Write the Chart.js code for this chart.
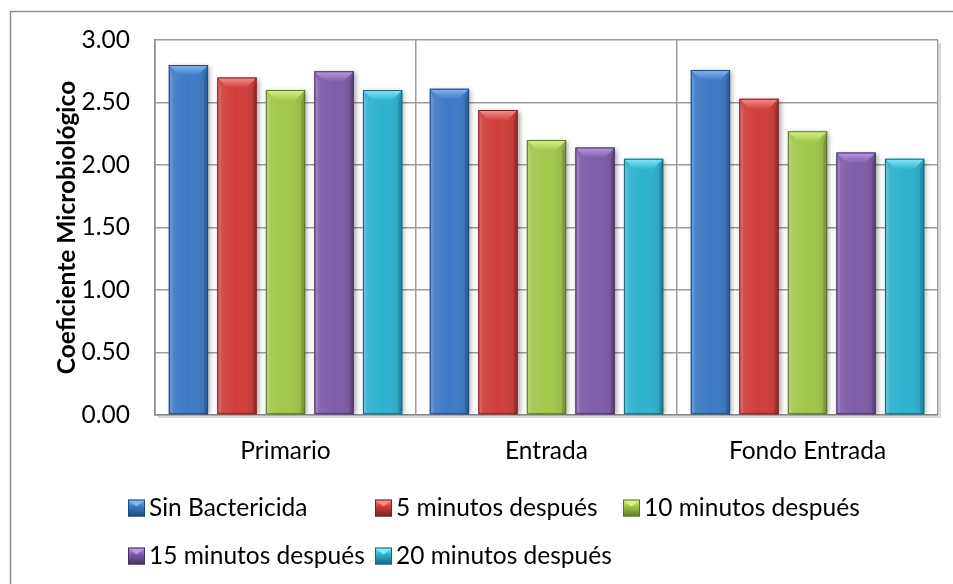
<!DOCTYPE html>
<html>
<head>
<meta charset="utf-8">
<script src="https://cdn.jsdelivr.net/npm/chart.js@4.4.1/dist/chart.umd.min.js"></script>
<style>
  html,body{margin:0;padding:0;background:#fff;}
  #wrap{width:953px;height:584px;position:relative;}
</style>
</head>
<body>
<div id="wrap"><canvas id="c" width="953" height="584"></canvas></div>
<script>
const categories = ['Primario', 'Entrada', 'Fondo Entrada'];
const seriesNames = ['Sin Bactericida', '5 minutos después', '10 minutos después', '15 minutos después', '20 minutos después'];
const sinBactericida = [2.80, 2.61, 2.76];
const min5 = [2.70, 2.44, 2.53];
const min10 = [2.60, 2.20, 2.27];
const min15 = [2.75, 2.14, 2.10];
const min20 = [2.60, 2.05, 2.05];
const yTickValues = [0, 0.5, 1, 1.5, 2, 2.5, 3];
const yTitle = 'Coeficiente Microbiológico';

const baseColors = ['#3C7AC6', '#CF3D3A', '#A2C64C', '#7E5CA8', '#2DB2D0'];
const lightColors = ['#85B6F0', '#F4918D', '#DAF48A', '#BA9BE4', '#86E8F8'];
const darkColors = ['#1F4A7E', '#7A2221', '#5B7624', '#45305F', '#1A6678'];

const seriesValues = [sinBactericida, min5, min10, min15, min20];
const FONT = 'Lato';
const FS = 24.5;

function bevelBar(ctx, x0, x1, yTop, yBot, i) {
  const b = Math.min(11, (x1 - x0) / 3);
  const g = ctx.createLinearGradient(x0, 0, x1, 0);
  g.addColorStop(0, 'rgba(255,255,255,0.10)');
  g.addColorStop(0.5, 'rgba(255,255,255,0.0)');
  g.addColorStop(1, 'rgba(0,0,0,0.12)');
  ctx.fillStyle = g;
  ctx.fillRect(x0, yTop, x1 - x0, yBot - yTop);
  const gt = ctx.createLinearGradient(0, yTop, 0, yTop + b);
  gt.addColorStop(0, lightColors[i]);
  gt.addColorStop(1, baseColors[i]);
  ctx.fillStyle = gt;
  ctx.beginPath();
  ctx.moveTo(x0, yTop); ctx.lineTo(x1, yTop); ctx.lineTo(x1 - b, yTop + b); ctx.lineTo(x0 + b, yTop + b); ctx.closePath();
  ctx.fill();
  ctx.fillStyle = 'rgba(255,255,255,0.12)';
  ctx.beginPath();
  ctx.moveTo(x0, yTop); ctx.lineTo(x0 + b * 0.35, yTop + b); ctx.lineTo(x0 + b * 0.35, yBot); ctx.lineTo(x0, yBot); ctx.closePath();
  ctx.fill();
  ctx.fillStyle = 'rgba(0,0,0,0.15)';
  ctx.beginPath();
  ctx.moveTo(x1, yTop); ctx.lineTo(x1 - b * 0.35, yTop + b); ctx.lineTo(x1 - b * 0.35, yBot); ctx.lineTo(x1, yBot); ctx.closePath();
  ctx.fill();
  ctx.strokeStyle = darkColors[i];
  ctx.lineWidth = 1;
  ctx.strokeRect(x0 + 0.5, yTop + 0.5, x1 - x0 - 1, yBot - yTop - 1);
}

const decoPlugin = {
  id: 'deco',
  beforeDraw(chart) {
    const ctx = chart.ctx;
    ctx.save();
    ctx.fillStyle = '#fff';
    ctx.fillRect(0, 0, chart.width, chart.height);
    ctx.strokeStyle = '#8e8e8e';
    ctx.lineWidth = 1.5;
    ctx.strokeRect(10.5, 11.5, 1200, 1200);
    const a = chart.chartArea;
    ctx.strokeStyle = 'rgba(0,0,0,0.15)';
    ctx.lineWidth = 2;
    ctx.beginPath();
    ctx.moveTo(a.right + 2, a.top + 3); ctx.lineTo(a.right + 2, a.bottom + 2); ctx.lineTo(a.left + 3, a.bottom + 2);
    ctx.stroke();
    ctx.restore();
  },
  beforeDatasetsDraw(chart) {
    const ctx = chart.ctx;
    ctx.save();
    ctx.shadowColor = 'rgba(0,0,0,0.35)';
    ctx.shadowBlur = 5;
    ctx.shadowOffsetX = 2;
    ctx.shadowOffsetY = 1;
  },
  afterDatasetsDraw(chart) {
    const ctx = chart.ctx;
    ctx.restore();
    ctx.save();
    chart.data.datasets.forEach((ds, i) => {
      const meta = chart.getDatasetMeta(i);
      meta.data.forEach(el => {
        const p = el.getProps(['x', 'y', 'width', 'base'], true);
        const x0 = p.x - p.width / 2, x1 = p.x + p.width / 2;
        bevelBar(ctx, x0, x1, Math.min(p.y, p.base), Math.max(p.y, p.base), i);
      });
    });
    ctx.restore();
  },
  afterDraw(chart) {
    const ctx = chart.ctx;
    ctx.save();
    ctx.font = FS + 'px ' + FONT;
    ctx.textBaseline = 'middle';
    ctx.textAlign = 'left';
    const pos = [[128, 507], [375, 507], [623, 507], [128, 555], [375, 555]];
    chart.data.datasets.forEach((ds, i) => {
      const [x, y] = pos[i];
      const s = 17;
      const top = y - s / 2 + 1;
      const g = ctx.createLinearGradient(0, top, 0, top + s);
      g.addColorStop(0, lightColors[i]);
      g.addColorStop(0.4, baseColors[i]);
      g.addColorStop(1, darkColors[i]);
      ctx.fillStyle = g;
      ctx.fillRect(x, top, s, s);
      ctx.fillStyle = lightColors[i];
      ctx.beginPath();
      ctx.moveTo(x + 1, top + 1); ctx.lineTo(x + s - 1, top + 1); ctx.lineTo(x + s / 2, top + 7); ctx.closePath();
      ctx.fill();
      ctx.strokeStyle = darkColors[i];
      ctx.lineWidth = 1;
      ctx.strokeRect(x + 0.5, top + 0.5, s - 1, s - 1);
      ctx.fillStyle = '#000';
      ctx.fillText(ds.label, x + s + 4, y + 1);
    });
    ctx.restore();
  }
};

new Chart(document.getElementById('c'), {
  type: 'bar',
  data: {
    labels: categories,
    datasets: seriesValues.map((vals, i) => ({
      label: seriesNames[i],
      data: vals,
      backgroundColor: baseColors[i],
      borderColor: darkColors[i],
      borderWidth: 0,
      categoryPercentage: 0.93,
      barPercentage: 0.81
    }))
  },
  options: {
    responsive: false,
    animation: false,
    devicePixelRatio: 1,
    layout: { padding: { left: 0, top: 40, right: 15, bottom: 0 } },
    plugins: { legend: { display: false }, tooltip: { enabled: false } },
    scales: {
      x: {
        grid: { color: '#9c9c9c', lineWidth: 1.5, drawTicks: false, offset: true },
        border: { color: '#8a8a8a', width: 1.5 },
        ticks: { color: '#000', font: { family: FONT, size: FS }, padding: 21 },
        afterFit(scale) { scale.height = 169; }
      },
      y: {
        min: 0, max: 3,
        afterBuildTicks(scale) { scale.ticks = yTickValues.map(v => ({ value: v })); },
        grid: { color: '#9c9c9c', lineWidth: 1.5, drawTicks: false },
        border: { color: '#8a8a8a', width: 1.5 },
        ticks: { color: '#000', font: { family: FONT, size: FS }, padding: 25,
          callback: v => Number(v).toFixed(2) },
        title: { display: true, text: yTitle, color: '#000', font: { family: FONT, size: 24.5, weight: 'bold' }, padding: { top: 52, bottom: 0 } },
        afterFit(scale) { scale.width = 155; }
      }
    }
  },
  plugins: [decoPlugin]
});
</script>
</body>
</html>
